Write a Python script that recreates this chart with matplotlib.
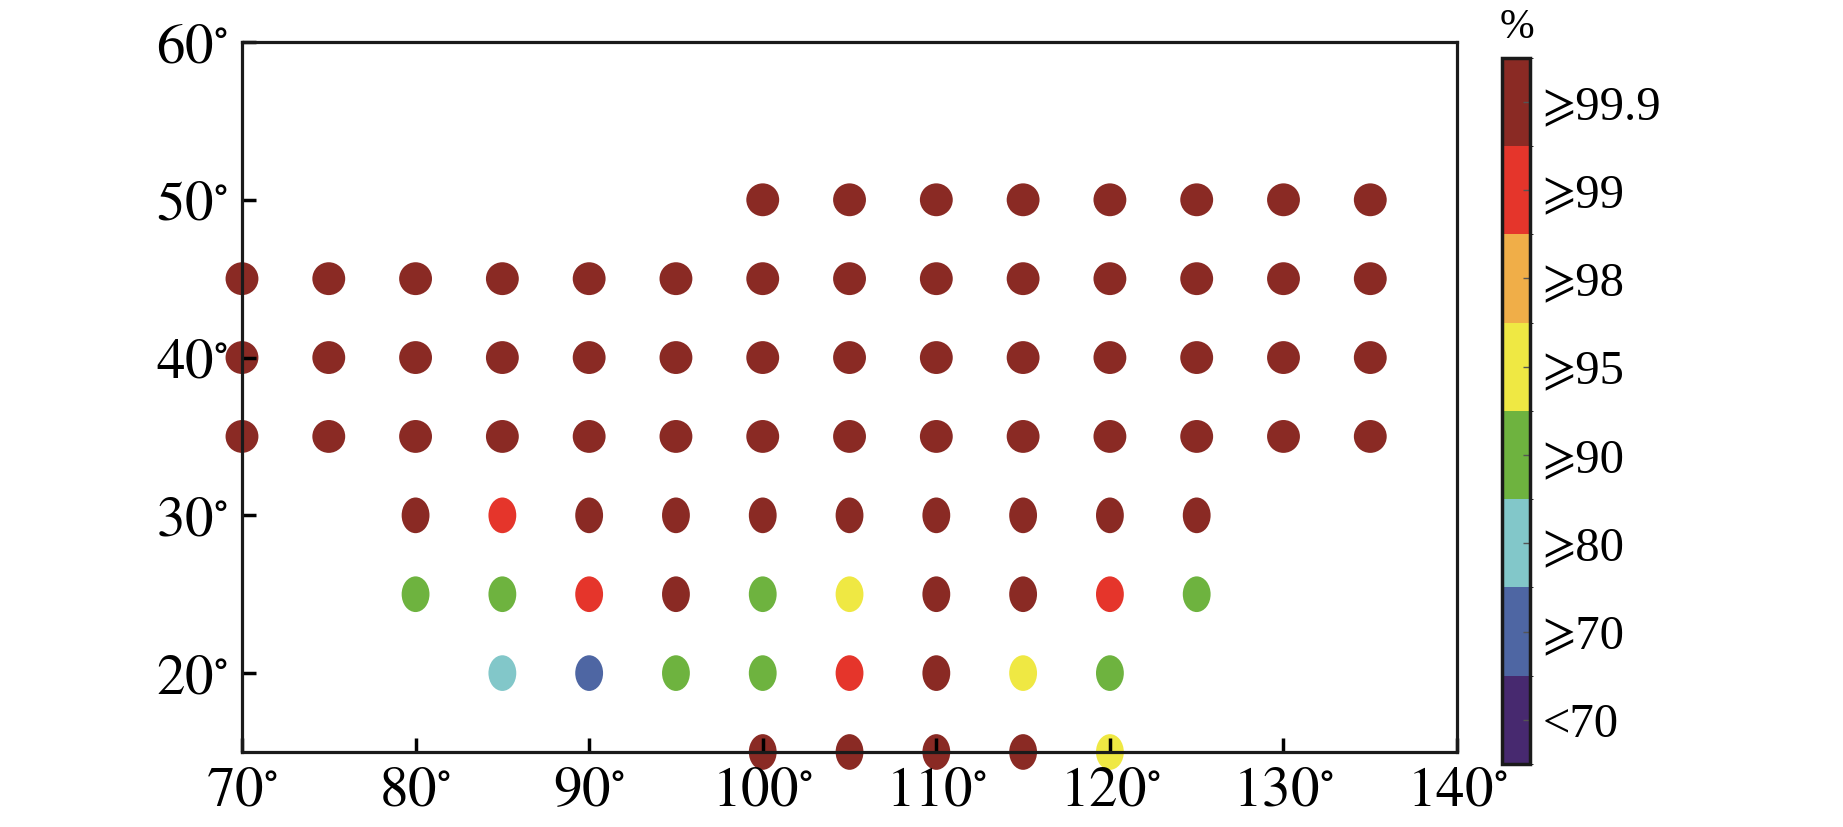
import numpy as np
import matplotlib
matplotlib.use('Agg')
import matplotlib.pyplot as plt
from matplotlib.colors import ListedColormap, BoundaryNorm
from matplotlib.path import Path

plt.rcParams['font.family'] = ['Liberation Serif', 'STIXGeneral', 'DejaVu Serif']
plt.rcParams['mathtext.fontset'] = 'stix'

# colour classes (index into class_labels)
class_labels = ['<70', '⩾70', '⩾80', '⩾90', '⩾95', '⩾98', '⩾99', '⩾99.9']
class_colors = ['#47296f', '#4e66a3', '#82c7c9', '#6eb33f',
                '#efe843', '#f0ae48', '#e5352b', '#8a2a24']

# grid points, row by row (lons of the row, class of each point)
lon_50 = [100, 105, 110, 115, 120, 125, 130, 135]
cls_50 = [7, 7, 7, 7, 7, 7, 7, 7]
lon_45 = [70, 75, 80, 85, 90, 95, 100, 105, 110, 115, 120, 125, 130, 135]
cls_45 = [7, 7, 7, 7, 7, 7, 7, 7, 7, 7, 7, 7, 7, 7]
lon_40 = [70, 75, 80, 85, 90, 95, 100, 105, 110, 115, 120, 125, 130, 135]
cls_40 = [7, 7, 7, 7, 7, 7, 7, 7, 7, 7, 7, 7, 7, 7]
lon_35 = [70, 75, 80, 85, 90, 95, 100, 105, 110, 115, 120, 125, 130, 135]
cls_35 = [7, 7, 7, 7, 7, 7, 7, 7, 7, 7, 7, 7, 7, 7]
lon_30 = [80, 85, 90, 95, 100, 105, 110, 115, 120, 125]
cls_30 = [7, 6, 7, 7, 7, 7, 7, 7, 7, 7]
lon_25 = [80, 85, 90, 95, 100, 105, 110, 115, 120, 125]
cls_25 = [3, 3, 6, 7, 3, 4, 7, 7, 6, 3]
lon_20 = [85, 90, 95, 100, 105, 110, 115, 120]
cls_20 = [2, 1, 3, 3, 6, 7, 4, 3]
lon_15 = [100, 105, 110, 115, 120]
cls_15 = [7, 7, 7, 7, 4]

rows = [(50, lon_50, cls_50), (45, lon_45, cls_45), (40, lon_40, cls_40),
        (35, lon_35, cls_35), (30, lon_30, cls_30), (25, lon_25, cls_25),
        (20, lon_20, cls_20), (15, lon_15, cls_15)]

cmap = ListedColormap(class_colors)
norm = BoundaryNorm(np.arange(0, 9), cmap.N)

fig = plt.figure(figsize=(18.43, 8.27), dpi=100)
ax = fig.add_axes([0.1313, 0.0907, 0.6593, 0.8585])

# southern rows are drawn slightly oval in the original
circle = Path.unit_circle()
oval = Path(circle.vertices * [0.78, 1.0], circle.codes)

for lat, lons, cls in rows:
    marker = 'o' if lat >= 35 else oval
    size = 560 if lat >= 35 else 660
    ax.scatter(lons, [lat] * len(lons), c=np.array(cls) + 0.5, cmap=cmap, norm=norm,
               s=size, marker=marker, edgecolors='none', clip_on=False, zorder=1)

ax.set_xlim(70, 140)
ax.set_ylim(15, 60)
ax.set_xticks(range(70, 141, 10))
ax.set_yticks(range(20, 61, 10))
ax.set_xticklabels([r'$%d^{\circ}$' % v for v in range(70, 141, 10)])
ax.set_yticklabels([r'$%d^{\circ}$' % v for v in range(20, 61, 10)])
ax.tick_params(direction='in', length=10, width=2.5, labelsize=41, pad=10)
for sp in ax.spines.values():
    sp.set_linewidth(2.3)
    sp.set_color('#1a1a1a')
    sp.set_zorder(3)

cax = fig.add_axes([0.815, 0.0762, 0.0152, 0.854])
sm = plt.cm.ScalarMappable(cmap=cmap, norm=norm)
cb = fig.colorbar(sm, cax=cax, ticks=np.arange(8) + 0.5)
cb.ax.set_yticklabels(class_labels)
cb.ax.tick_params(direction='in', length=5, width=1, labelsize=35, pad=9, color='#555555')
cb.outline.set_linewidth(2.5)
cb.outline.set_edgecolor('#1a1a1a')
fig.text(1517 / 1843, 1 - 47 / 827, '%', ha='center', va='bottom', fontsize=30)

fig.savefig('out.png', dpi=100)
